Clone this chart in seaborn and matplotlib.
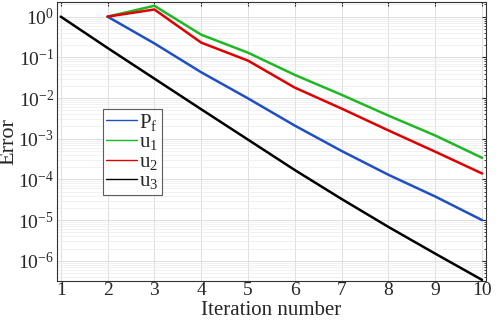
import numpy as np
import pandas as pd
import seaborn as sns
import matplotlib
matplotlib.use("Agg")
import matplotlib.pyplot as plt
from matplotlib.ticker import LogLocator, NullFormatter

# datos
iter_u3 = [1, 2, 3, 4, 5, 6, 7, 8, 9, 10]
err_u3 = [1.0, 0.17, 0.03, 5.3e-3, 9.5e-4, 1.7e-4, 3.3e-5, 6.8e-6, 1.5e-6, 3.4e-7]

iter_rest = [2, 3, 4, 5, 6, 7, 8, 9, 10]
err_pf = [1.0, 0.22, 0.043, 0.0098, 0.0021, 5.0e-4, 1.3e-4, 3.8e-5, 1.0e-5]
err_u1 = [1.0, 1.85, 0.36, 0.13, 0.037, 0.012, 0.0037, 0.0012, 3.4e-4]
err_u2 = [1.0, 1.5, 0.23, 0.083, 0.018, 0.0055, 0.0016, 4.8e-4, 1.4e-4]

labels = ['P$_\\mathrm{f}$', 'u$_\\mathrm{1}$', 'u$_\\mathrm{2}$', 'u$_\\mathrm{3}$']
colores = ['#1f4fc4', '#1fb824', '#e00000', '#000000']

df = pd.concat([
    pd.DataFrame({'iter': iter_rest, 'err': err_pf, 'serie': labels[0]}),
    pd.DataFrame({'iter': iter_rest, 'err': err_u1, 'serie': labels[1]}),
    pd.DataFrame({'iter': iter_rest, 'err': err_u2, 'serie': labels[2]}),
    pd.DataFrame({'iter': iter_u3, 'err': err_u3, 'serie': labels[3]}),
])

sns.set_style("white")
plt.rcParams['font.family'] = ['Liberation Serif', 'DejaVu Serif']
plt.rcParams['mathtext.fontset'] = 'custom'
plt.rcParams['mathtext.rm'] = 'Liberation Serif'
plt.rcParams['mathtext.it'] = 'Liberation Serif:italic'

fig = plt.figure(figsize=(4.98, 3.2), dpi=100)
ax = fig.add_axes([0.114, 0.122, 0.862, 0.872])

sns.lineplot(data=df, x='iter', y='err', hue='serie', hue_order=labels,
             palette=colores, linewidth=1.8, ax=ax, legend=False)

ax.set_yscale('log')
ax.set_xlim(0.915, 10.085)
ax.set_ylim(3.2e-7, 2.3)
ax.set_xticks(range(1, 11))
ax.yaxis.set_major_locator(LogLocator(base=10, numticks=20))
ax.yaxis.set_minor_locator(LogLocator(base=10, subs=np.arange(2, 10), numticks=20))
ax.yaxis.set_minor_formatter(NullFormatter())

ax.grid(True, which='major', color='#d9d9d9', linewidth=0.6)
ax.grid(True, which='minor', color='#ececec', linewidth=0.5)
ax.tick_params(which='both', direction='in', top=True, right=True, labelsize=14, pad=2)
ax.tick_params(axis='x', pad=1)
ax.tick_params(which='major', length=3)
ax.tick_params(which='minor', length=1.5)
for s in ax.spines.values():
    s.set_color('#333333')
    s.set_linewidth(0.8)

ax.set_xlabel('Iteration number', fontsize=15)
ax.set_ylabel('Error', fontsize=16)
ax.xaxis.set_label_coords(0.5, -0.072)
ax.yaxis.set_label_coords(-0.09, 0.5)

# leyenda con lineas finas
handles = [plt.Line2D([], [], color=c, linewidth=1.0) for c in colores]
leg = ax.legend(handles, labels, loc='upper left', bbox_to_anchor=(0.107, 0.618),
                fontsize=15, frameon=True, fancybox=False, handlelength=1.5,
                handletextpad=0.1, borderpad=0.15, labelspacing=0.0, borderaxespad=0)
leg.get_frame().set_edgecolor('#333333')
leg.get_frame().set_linewidth(0.8)

fig.savefig('out.png', dpi=100)
